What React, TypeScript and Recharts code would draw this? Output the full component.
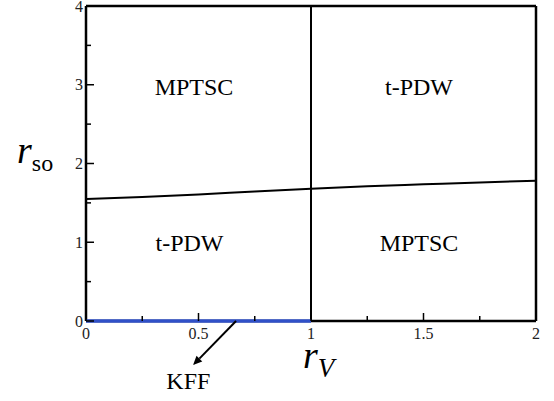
import React, { useEffect, useState } from "react";
import {
  ComposedChart,
  Line,
  XAxis,
  YAxis,
  ReferenceLine,
  ReferenceDot,
} from "recharts";

// axis ticks
const X_MAJOR = [0, 0.5, 1, 1.5, 2];
const X_MINOR = [0.25, 0.75, 1.25, 1.75];
const X_LABELS = ["0", "0.5", "1", "1.5", "2"];
const Y_MAJOR = [0, 1, 2, 3, 4];
const Y_MINOR = [0.5, 1.5, 2.5, 3.5];
const Y_LABELS = ["0", "1", "2", "3", "4"];

// phase boundary r_so(r_V)
const BOUND_X = [0, 0.25, 0.5, 0.75, 1, 1.25, 1.5, 1.75, 2];
const BOUND_Y = [1.55, 1.575, 1.605, 1.645, 1.68, 1.71, 1.735, 1.76, 1.78];

// KFF segment on the r_so = 0 axis
const KFF_X = [0, 1];
const KFF_Y = [0, 0];

// region names and where they sit (data coords)
const PHASES = ["MPTSC", "t-PDW", "t-PDW", "MPTSC"];
const PHASE_X = [0.48, 1.48, 0.46, 1.48];
const PHASE_Y = [2.97, 2.97, 0.99, 0.99];

// arrow pointing at KFF line
const ARROW_FROM = { x: 0.667, y: 0 };
const ARROW_TO = { x: 0.476, y: -0.56 };
const KFF_LABEL = { x: 0.455, y: -0.76 };

const boundary = BOUND_X.map((x, i) => ({ x, y: BOUND_Y[i] }));
const kff = KFF_X.map((x, i) => ({ x, y: KFF_Y[i] }));

const SERIF = "Liberation Serif";

// start loading the serif faces right away, before the chart draws
const fontsLoading: Promise<any> =
  typeof document !== "undefined" && (document as any).fonts
    ? Promise.all([
        (document as any).fonts.load(`16px "${SERIF}"`),
        (document as any).fonts.load(`italic 38px "${SERIF}"`),
      ]).catch(() => null)
    : Promise.resolve(null);

const XTick = (props: any) => {
  const { x, y, payload } = props;
  const idx = X_MAJOR.indexOf(payload.value);
  const major = idx >= 0;
  return (
    <g>
      <line x1={x} x2={x} y1={y} y2={y - (major ? 8 : 5)} stroke="#000" strokeWidth={1.5} />
      {major && (
        <text x={x} y={y + 18} textAnchor="middle" fontFamily={SERIF} fontSize={16} fill="#222">
          {X_LABELS[idx]}
        </text>
      )}
    </g>
  );
};

const YTick = (props: any) => {
  const { x, y, payload } = props;
  const idx = Y_MAJOR.indexOf(payload.value);
  const major = idx >= 0;
  return (
    <g>
      <line x1={x} x2={x + (major ? 8 : 5)} y1={y} y2={y} stroke="#000" strokeWidth={1.5} />
      {major && (
        <text x={x - 3} y={y + 5.5} textAnchor="end" fontFamily={SERIF} fontSize={16} fill="#222">
          {Y_LABELS[idx]}
        </text>
      )}
    </g>
  );
};

const Arrow = (props: any) => {
  const { x1, y1, x2, y2 } = props;
  const ang = Math.atan2(y2 - y1, x2 - x1);
  const len = 9;
  const w = 4;
  const bx = x2 - len * Math.cos(ang);
  const by = y2 - len * Math.sin(ang);
  const px = -Math.sin(ang) * w;
  const py = Math.cos(ang) * w;
  return (
    <g>
      <line x1={x1} y1={y1} x2={bx} y2={by} stroke="#000" strokeWidth={2} />
      <polygon points={`${x2},${y2} ${bx + px},${by + py} ${bx - px},${by - py}`} fill="#000" />
    </g>
  );
};

const phaseLabel = (text: string) => (p: any) => {
  const vb = p.viewBox;
  const cx = vb.x + vb.width / 2;
  const cy = vb.y + vb.height / 2;
  return (
    <text x={cx} y={cy + 8} textAnchor="middle" fontFamily={SERIF} fontSize={24} fill="#000">
      {text}
    </text>
  );
};

const XAxisLabel = (p: any) => {
  const vb = p.viewBox;
  const x0 = vb.x + vb.width / 2 - 8;
  return (
    <text x={x0} y={368} fontFamily={SERIF} fill="#000">
      <tspan fontSize={38} fontStyle="italic">r</tspan>
      <tspan fontSize={27} fontStyle="italic" dy={9}>V</tspan>
    </text>
  );
};

const YAxisLabel = () => {
  return (
    <text x={17} y={163} fontFamily={SERIF} fill="#000">
      <tspan fontSize={38} fontStyle="italic">r</tspan>
      <tspan fontSize={24} dy={8}>so</tspan>
    </text>
  );
};

export default function App() {
  const [ready, setReady] = useState(false);
  useEffect(() => {
    fontsLoading.then(() => setReady(true));
  }, []);

  const xTicks = [...X_MAJOR, ...X_MINOR].sort((a, b) => a - b);
  const yTicks = [...Y_MAJOR, ...Y_MINOR].sort((a, b) => a - b);
  return (
    <div
      style={{
        position: "absolute",
        left: 0,
        top: 0,
        width: 554,
        height: 401,
        background: "#fff",
        fontFamily: SERIF,
      }}
    >
      <ComposedChart
        key={ready ? "fonts" : "nofonts"}
        width={554}
        height={401}
        margin={{ top: 6, right: 18, left: 0, bottom: 0 }}
      >
        <XAxis
          type="number"
          dataKey="x"
          domain={[0, 2]}
          ticks={xTicks}
          interval={0}
          height={80}
          tickSize={0}
          tickMargin={0}
          tickLine={false}
          axisLine={false}
          tick={<XTick />}
          label={{ content: <XAxisLabel /> }}
        />
        <YAxis
          type="number"
          dataKey="y"
          domain={[0, 4]}
          ticks={yTicks}
          interval={0}
          width={86}
          tickSize={0}
          tickMargin={0}
          tickLine={false}
          axisLine={false}
          tick={<YTick />}
          label={{ content: <YAxisLabel /> }}
        />
        <ReferenceLine y={0} stroke="#000" strokeWidth={2.5} />
        <ReferenceLine x={0} stroke="#000" strokeWidth={2.5} />
        <ReferenceLine y={4} stroke="#000" strokeWidth={2.5} />
        <ReferenceLine x={2} stroke="#000" strokeWidth={2.5} />
        <ReferenceLine x={1} stroke="#000" strokeWidth={2} />
        <Line
          data={boundary}
          dataKey="y"
          type="monotone"
          stroke="#000"
          strokeWidth={2}
          dot={false}
          isAnimationActive={false}
        />
        <Line
          data={kff}
          dataKey="y"
          type="linear"
          stroke="#3050c8"
          strokeWidth={3.5}
          dot={false}
          isAnimationActive={false}
        />
        <ReferenceLine
          segment={[ARROW_FROM, ARROW_TO]}
          ifOverflow="visible"
          shape={(p: any) => <Arrow {...p} />}
        />
        {PHASES.map((name, i) => (
          <ReferenceDot
            key={i}
            x={PHASE_X[i]}
            y={PHASE_Y[i]}
            r={0}
            fill="none"
            stroke="none"
            label={{ content: phaseLabel(name) }}
          />
        ))}
        <ReferenceDot
          x={KFF_LABEL.x}
          y={KFF_LABEL.y}
          r={0}
          fill="none"
          stroke="none"
          ifOverflow="visible"
          label={{ content: phaseLabel("KFF") }}
        />
      </ComposedChart>
    </div>
  );
}
